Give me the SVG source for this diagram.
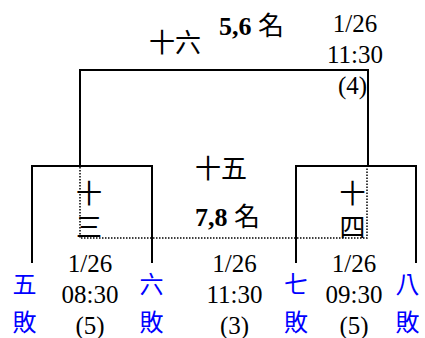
<svg xmlns="http://www.w3.org/2000/svg" width="425" height="338" viewBox="0 0 425 338">
<style>
.ln{fill:none;stroke:#000;stroke-width:2}
.dot{fill:none;stroke:#000;stroke-width:1.5;stroke-dasharray:1.5 1.5}
.t{font-family:"Liberation Serif","Noto Sans CJK TC",serif;font-size:25px;fill:#000;text-anchor:middle}
.b{font-family:"Liberation Serif","Noto Sans CJK TC",serif;font-size:26px;font-weight:bold;fill:#000}
.nm{font-family:"Noto Sans CJK TC",sans-serif;font-weight:normal}
.c{font-family:"Noto Sans CJK TC",sans-serif;font-size:26px;fill:#000;text-anchor:middle}
.bl{font-family:"Noto Sans CJK TC",sans-serif;font-size:24px;fill:#0000ff;text-anchor:middle}
</style>
<rect width="425" height="338" fill="#fff"/>
<g id="connectors">
<path class="ln" d="M80,166 V70 H368 V166"/>
<path class="ln" d="M32,263 V166 H152 V263"/>
<path class="ln" d="M296,263 V166 H416 V263"/>
<path class="dot" d="M80,167 V238 H367 V167"/>
</g>
<g id="m16">
<text class="c" x="175" y="52">十六</text>
<text class="b" x="219" y="35">5,6 <tspan class="nm">名</tspan></text>
<text class="t" x="355" y="32">1/26</text>
<text class="t" x="355" y="63">11:30</text>
<text class="t" x="352.5" y="94">(4)</text>
</g>
<g id="m15">
<text class="c" x="221" y="178">十五</text>
<text class="b" x="195" y="226">7,8 <tspan class="nm">名</tspan></text>
<text class="t" x="234.5" y="272">1/26</text>
<text class="t" x="234.5" y="303">11:30</text>
<text class="t" x="234.5" y="334">(3)</text>
</g>
<g id="m13">
<text class="c" x="89" y="203">十</text>
<text class="c" x="89" y="237">三</text>
<text class="t" x="90" y="272">1/26</text>
<text class="t" x="90" y="303">08:30</text>
<text class="t" x="90" y="334">(5)</text>
</g>
<g id="m14">
<text class="c" x="352.5" y="203">十</text>
<text class="c" x="352.5" y="237">四</text>
<text class="t" x="354" y="272">1/26</text>
<text class="t" x="354" y="303">09:30</text>
<text class="t" x="354" y="334">(5)</text>
</g>
<g id="l5">
<text class="bl" x="24.5" y="293">五</text>
<text class="bl" x="24.5" y="331">敗</text>
</g>
<g id="l6">
<text class="bl" x="151.5" y="293">六</text>
<text class="bl" x="151.5" y="331">敗</text>
</g>
<g id="l7">
<text class="bl" x="296" y="293">七</text>
<text class="bl" x="296" y="331">敗</text>
</g>
<g id="l8">
<text class="bl" x="407.5" y="293">八</text>
<text class="bl" x="407.5" y="331">敗</text>
</g>
</svg>
